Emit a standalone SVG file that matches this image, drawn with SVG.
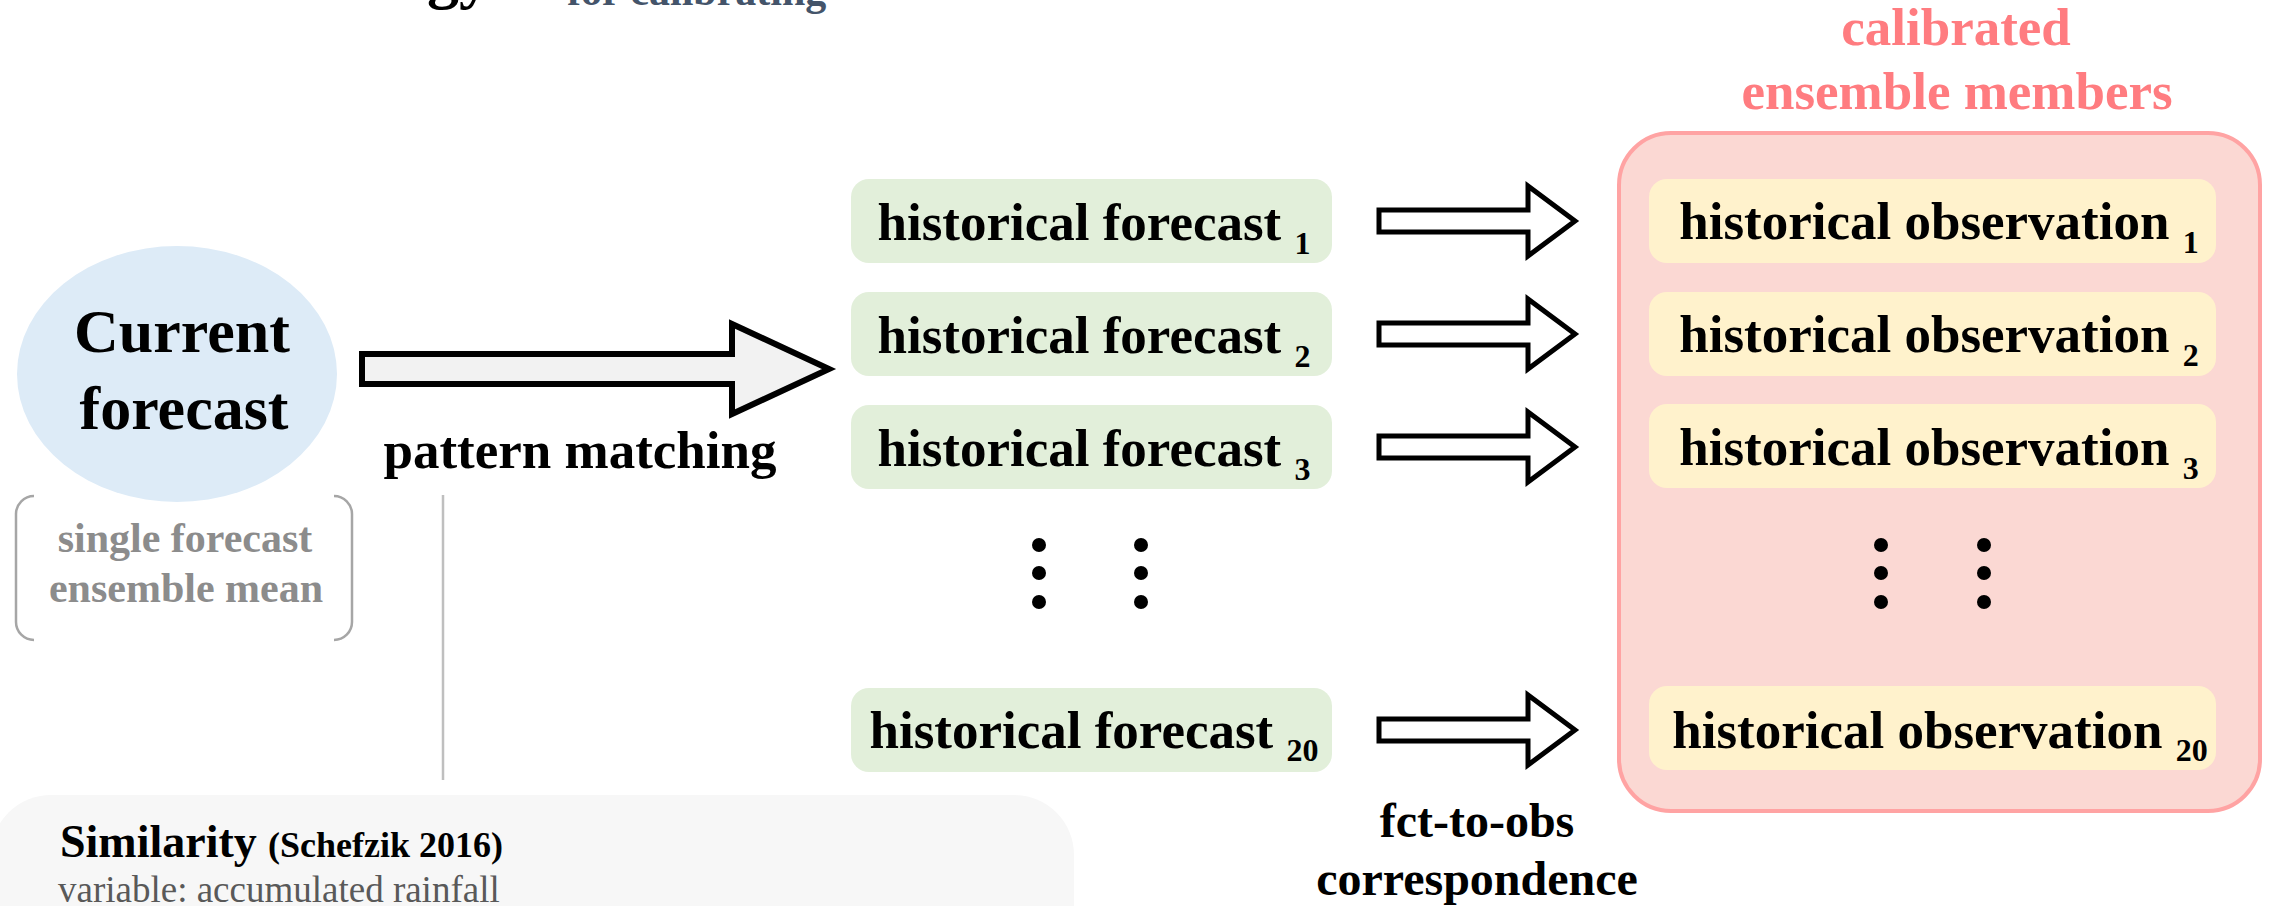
<svg xmlns="http://www.w3.org/2000/svg" width="2269" height="906" viewBox="0 0 2269 906">
<style>
.t{font-family:"Liberation Serif","Times New Roman",serif;font-weight:bold;fill:#000}
.lbl{font-size:53px}
.sub{font-size:32px}
.fbox{fill:#E2EFDA}
.obox{fill:#FFF2CC}
.arr{fill:#fff;stroke:#000;stroke-width:5;stroke-linejoin:miter}
.dot{fill:#000}
.br{fill:none;stroke:#A6A6A6;stroke-width:2.5}
</style>
<rect width="2269" height="906" fill="#fff"/>
<g id="title">
<text class="t" x="427" y="-4" font-size="64">gy</text>
<text class="t" x="567" y="5" font-size="42" style="fill:#44546A">for calibrating</text>
</g>
<g id="similarity">
<rect x="-9" y="795" width="1083" height="200" rx="60" fill="#F7F7F7"/>
<text class="t" x="60" y="857" font-size="46">Similarity</text>
<text class="t" x="268" y="857" font-size="36">(Schefzik 2016)</text>
<text x="58" y="902" font-size="37" style="font-family:'Liberation Serif','Times New Roman',serif;fill:#595959">variable: accumulated rainfall</text>
</g>
<g id="current-forecast">
<ellipse cx="177" cy="374" rx="160" ry="128" fill="#DDEBF7"/>
<text class="t" x="182" y="352" font-size="62" text-anchor="middle">Current</text>
<text class="t" x="184" y="429" font-size="62" text-anchor="middle">forecast</text>
</g>
<g id="forecast-type">
<path class="br" d="M34,496 A18,18 0 0 0 16,514 L16,622 A18,18 0 0 0 34,640"/>
<path class="br" d="M334,496 A18,18 0 0 1 352,514 L352,622 A18,18 0 0 1 334,640"/>
<text class="t" x="185" y="552" font-size="42" text-anchor="middle" style="fill:#8C8C8C">single forecast</text>
<text class="t" x="186" y="602" font-size="42" text-anchor="middle" style="fill:#8C8C8C">ensemble mean</text>
</g>
<g id="ensemble-container">
<rect x="1619" y="133" width="641" height="678" rx="52" fill="#FBD8D3" stroke="#FFA3A3" stroke-width="4"/>
<text class="t" x="1956" y="45" font-size="53" text-anchor="middle" style="fill:#FF7C80">calibrated</text>
<text class="t" x="1957" y="109" font-size="53" text-anchor="middle" style="fill:#FF7C80">ensemble members</text>
</g>
<g id="hf1"><rect class="fbox" x="851" y="179" width="481" height="84" rx="18"/><text class="t lbl" x="1094" y="240" text-anchor="middle">historical forecast <tspan class="sub" dy="14">1</tspan></text></g>
<g id="hf2"><rect class="fbox" x="851" y="292" width="481" height="84" rx="18"/><text class="t lbl" x="1094" y="353" text-anchor="middle">historical forecast <tspan class="sub" dy="14">2</tspan></text></g>
<g id="hf3"><rect class="fbox" x="851" y="405" width="481" height="84" rx="18"/><text class="t lbl" x="1094" y="466" text-anchor="middle">historical forecast <tspan class="sub" dy="14">3</tspan></text></g>
<g id="hf20"><rect class="fbox" x="851" y="688" width="481" height="84" rx="18"/><text class="t lbl" x="1094" y="748" text-anchor="middle">historical forecast <tspan class="sub" dy="13">20</tspan></text></g>
<g id="ho1"><rect class="obox" x="1649" y="179" width="567" height="84" rx="18"/><text class="t lbl" x="1939" y="239" text-anchor="middle">historical observation <tspan class="sub" dy="14">1</tspan></text></g>
<g id="ho2"><rect class="obox" x="1649" y="292" width="567" height="84" rx="18"/><text class="t lbl" x="1939" y="352" text-anchor="middle">historical observation <tspan class="sub" dy="14">2</tspan></text></g>
<g id="ho3"><rect class="obox" x="1649" y="404" width="567" height="84" rx="18"/><text class="t lbl" x="1939" y="465" text-anchor="middle">historical observation <tspan class="sub" dy="14">3</tspan></text></g>
<g id="ho20"><rect class="obox" x="1649" y="686" width="567" height="84" rx="18"/><text class="t lbl" x="1940" y="748" text-anchor="middle">historical observation <tspan class="sub" dy="13">20</tspan></text></g>
<g id="ellipsis-forecast">
<circle class="dot" cx="1039" cy="545" r="7"/><circle class="dot" cx="1039" cy="573" r="7"/><circle class="dot" cx="1039" cy="602" r="7"/>
<circle class="dot" cx="1141" cy="545" r="7"/><circle class="dot" cx="1141" cy="573" r="7"/><circle class="dot" cx="1141" cy="602" r="7"/>
</g>
<g id="ellipsis-observation">
<circle class="dot" cx="1881" cy="545" r="7"/><circle class="dot" cx="1881" cy="573" r="7"/><circle class="dot" cx="1881" cy="602" r="7"/>
<circle class="dot" cx="1984" cy="545" r="7"/><circle class="dot" cx="1984" cy="573" r="7"/><circle class="dot" cx="1984" cy="602" r="7"/>
</g>
<g id="connectors">
<line x1="443" y1="495" x2="443" y2="780" stroke="#BFBFBF" stroke-width="2.5"/>
<path d="M362,354 H732 V324 L829,369 L732,414 V384 H362 Z" fill="#F2F2F2" stroke="#000" stroke-width="6"/>
<text class="t" x="580" y="468" font-size="53" text-anchor="middle">pattern matching</text>
<path class="arr" d="M1379,210 H1528 V186 L1575,221 L1528,256 V232 H1379 Z"/>
<path class="arr" d="M1379,323 H1528 V299 L1575,334 L1528,369 V345 H1379 Z"/>
<path class="arr" d="M1379,436 H1528 V412 L1575,447 L1528,482 V458 H1379 Z"/>
<path class="arr" d="M1379,719 H1528 V695 L1575,730 L1528,765 V741 H1379 Z"/>
<text class="t" x="1477" y="837" font-size="48" text-anchor="middle">fct-to-obs</text>
<text class="t" x="1477" y="895" font-size="48" text-anchor="middle">correspondence</text>
</g>
</svg>
